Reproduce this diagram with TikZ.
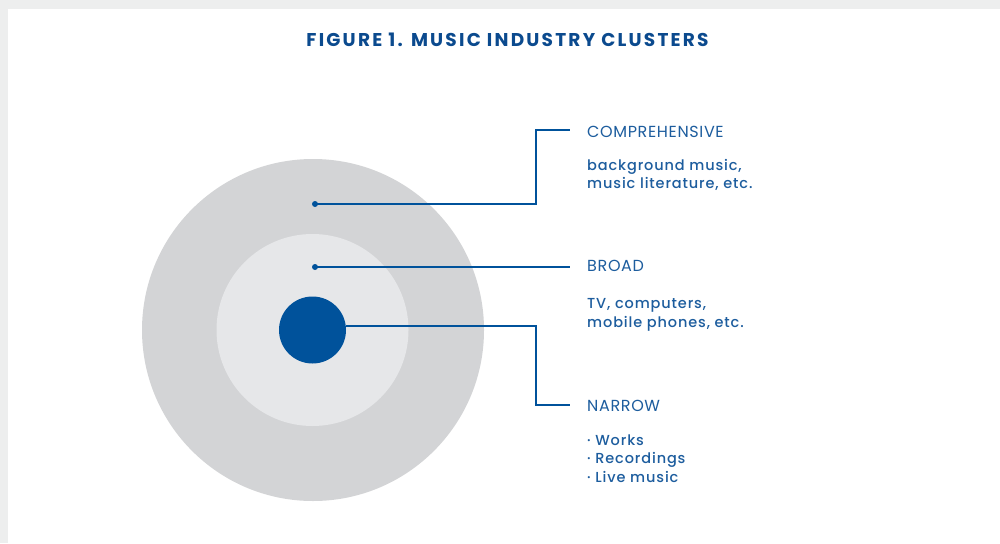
\documentclass[tikz,border=0pt]{standalone}
\usepackage{fontspec}
\setmainfont{Poppins}
\newfontfamily\titlefont[LetterSpace=12]{Poppins Bold}
\newfontfamily\labfont[LetterSpace=4]{Poppins}
\newfontfamily\descfont[LetterSpace=6]{Poppins Medium}
\definecolor{titleblue}{HTML}{0B4A8E}
\definecolor{txtblue}{HTML}{1D5D9E}
\definecolor{dotblue}{HTML}{00529B}
\definecolor{outergray}{HTML}{D3D4D6}
\definecolor{midgray}{HTML}{E6E7E9}
\definecolor{framegray}{HTML}{EDEEEE}
\tikzset{
  lab/.style={anchor=base west, inner sep=0pt, text=txtblue, font=\labfont\fontsize{16}{18}\selectfont},
  desc/.style={anchor=base west, inner sep=0pt, text=txtblue, font=\descfont\fontsize{14.5}{18}\selectfont},
  conn/.style={draw=dotblue, line width=1.5pt},
  dot/.style={circle, fill=dotblue, minimum size=6pt, inner sep=0pt},
}
\begin{document}
\begin{tikzpicture}[x=1pt,y=-1pt]
\useasboundingbox (0,0) rectangle (1000,543);
\fill[white] (0,0) rectangle (1000,543);
\fill[framegray] (0,0) rectangle (1000,9);
\fill[framegray] (0,0) rectangle (8,543);
\node[anchor=base, inner sep=0pt, text=titleblue, font=\titlefont\fontsize{18.5}{22}\selectfont] (title) at (507.5,46.5) {FIGURE 1. MUSIC INDUSTRY CLUSTERS};
\fill[outergray] (313,330) circle (171);
\fill[midgray] (312.5,330) circle (96);
\node[circle, fill=dotblue, minimum size=67pt, inner sep=0pt] (core) at (312.5,330) {};
\node[dot] (d1) at (315,204) {};
\node[dot] (d2) at (315,267) {};
\coordinate (e1) at (570,130);
\coordinate (e2) at (570,267);
\coordinate (e3) at (570,405);
\draw[conn] (d1.center) -- (536,204) |- (e1);
\draw[conn] (d2.center) -- (e2);
\draw[conn] (core.east |- 0,326) -- (536,326) |- (e3);
\node[lab] (comp) at (587,137) {COMPREHENSIVE};
\node[desc] (compd1) at (587,170) {background music,};
\node[desc] (compd2) at (587,188.5) {music literature, etc.};
\node[lab] (broad) at (587,271.5) {BROAD};
\node[desc] (broadd1) at (587,308.5) {TV, computers,};
\node[desc] (broadd2) at (587,327.5) {mobile phones, etc.};
\node[lab] (narrow) at (587,411) {NARROW};
\node[desc] (n1) at (587,445) {· Works};
\node[desc] (n2) at (587,463.5) {· Recordings};
\node[desc] (n3) at (587,482) {· Live music};
\end{tikzpicture}
\end{document}
